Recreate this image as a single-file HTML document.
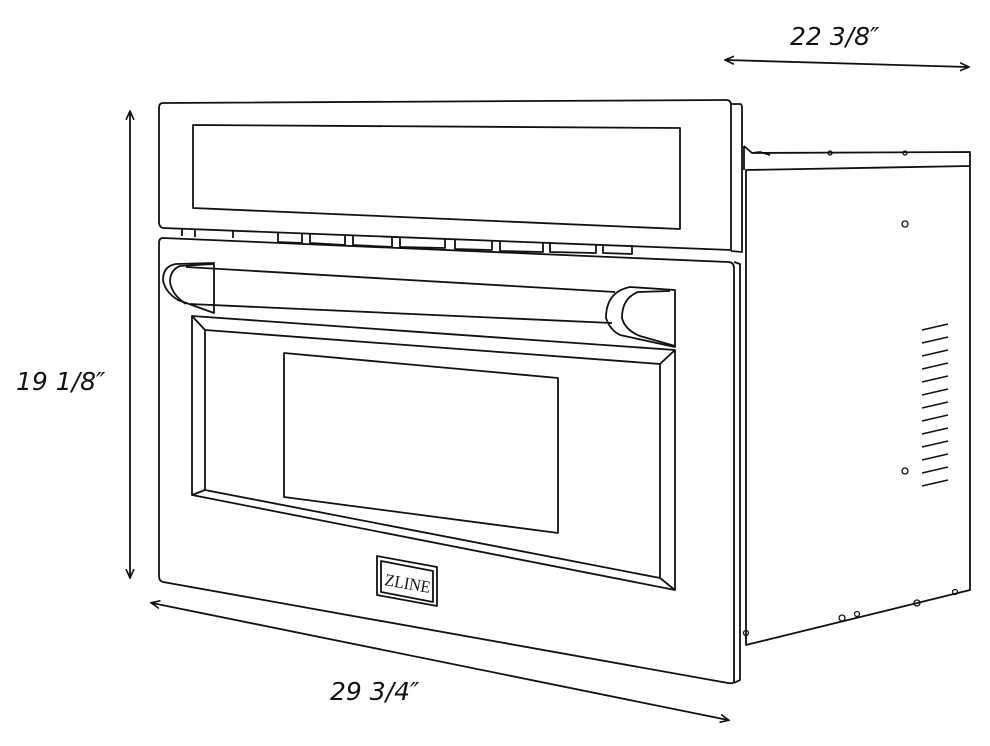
<!DOCTYPE html>
<html><head><meta charset="utf-8"><style>
html,body{margin:0;padding:0;background:#fff;}
svg{display:block}
text{font-family:"DejaVu Sans","Liberation Sans",sans-serif;font-style:italic;font-size:25px;fill:#111}
</style></head><body>
<svg width="990" height="746" viewBox="0 0 990 746" xmlns="http://www.w3.org/2000/svg">
<defs><marker id="a" markerWidth="10" markerHeight="10" refX="8" refY="5" orient="auto-start-reverse" markerUnits="userSpaceOnUse"><path d="M0,1 L9,5 L0,9" fill="none" stroke="#111" stroke-width="1.6"/></marker></defs>
<g fill="none" stroke="#111" stroke-width="1.8" stroke-linejoin="round">
<line x1="130" y1="112" x2="130" y2="577" marker-start="url(#a)" marker-end="url(#a)"/>
<line x1="726" y1="60" x2="968" y2="67" marker-start="url(#a)" marker-end="url(#a)"/>
<line x1="152" y1="603" x2="728" y2="720" marker-start="url(#a)" marker-end="url(#a)"/>
<!-- side body -->
<path d="M744,146 L752,153 L970,152 L970,590 L746,645 L746,170 L970,166"/>
<path d="M744,146 L744,170 M752,153 L760,152 L770,155"/>
<!-- top panel -->
<path d="M163,103 L726,100 Q731,100 731,105 L731,250 L163,228 Q159,227 159,222 L159,108 Q159,103 163,103 Z"/>
<path d="M731,104 L740,104 Q742,104 742,108 L742,252 L731,251"/>
<path d="M193,125 L680,128 L680,229 L193,208 Z"/>
<path d="M182,228 L182,236 M195,229 L195,237 M233,231 L233,238 M278,233 L278,242 L302,243 L302,233 M310,234 L310,243 L345,245 L345,235 M353,236 L353,245 L392,247 L392,237 M400,237 L400,247 L445,248 L445,239 M455,239 L455,249 L492,250 L492,240 M500,241 L500,251 L543,252 L543,242 M550,242 L550,252 L596,253 L596,244 M603,244 L603,253 L632,254 L632,245"/>
<!-- door -->
<path d="M163,238 L728,262 Q734,262 734,268 L734,681 Q734,684 728,683 L163,582 Q159,581 159,576 L159,243 Q159,238 163,238 Z"/>
<path d="M734,262 L740,264 L740,680 L734,683"/>
<!-- handle -->
<path d="M214,263 L176,264 Q163,266 163,280 Q165,292 178,300 L214,313 Z"/>
<path d="M214,264 L180,266 Q170,270 170,282 Q172,295 186,304"/>
<path d="M186,267 L615,292 M190,304 L612,323"/>
<path d="M675,290 L630,287 Q606,292 606,318 Q610,330 620,335 L675,347 Z"/>
<path d="M670,291 L638,292 Q622,298 622,318 Q625,330 640,336 L675,346"/>
<!-- door frame -->
<path d="M192,316 L675,350 L675,590 L192,495 Z"/>
<path d="M205,330 L660,364 L660,578 L205,490 Z"/>
<path d="M192,316 L205,330 M675,350 L660,364 M675,590 L660,578 M192,495 L205,490"/>
<path d="M284,353 L558,378 L558,533 L284,497 Z"/>
<!-- badge -->
<path d="M377,556 L437,567 L437,606 L377,595 Z"/>
<path d="M381,561 L433,571 L433,602 L381,592 Z"/>
<path d="M922,330 L948,324 M922,343 L948,337 M922,356 L948,350 M922,369 L948,363 M922,382 L948,376 M922,395 L948,389 M922,408 L948,402 M922,421 L948,415 M922,434 L948,428 M922,447 L948,441 M922,460 L948,454 M922,473 L948,467 M922,486 L948,480" stroke-width="1.5"/>
</g>
<g fill="none" stroke="#111" stroke-width="1.3">
<circle cx="905" cy="224" r="3"/><circle cx="905" cy="471" r="3"/>
<circle cx="917" cy="603" r="3"/><circle cx="955" cy="592" r="2.5"/>
<circle cx="842" cy="618" r="3"/><circle cx="857" cy="614" r="2.5"/>
<circle cx="746" cy="633" r="2.5"/>
<circle cx="830" cy="153" r="2"/><circle cx="905" cy="153" r="2"/>
</g>
<text x="384" y="585" textLength="46" lengthAdjust="spacingAndGlyphs" style="font-style:normal;font-family:'Liberation Serif',serif;font-size:17px" transform="rotate(10 384 585)">ZLINE</text>
<text x="790" y="45">22 3/8″</text>
<text x="16" y="390">19 1/8″</text>
<text x="330" y="700">29 3/4″</text>
</svg>
</body></html>
